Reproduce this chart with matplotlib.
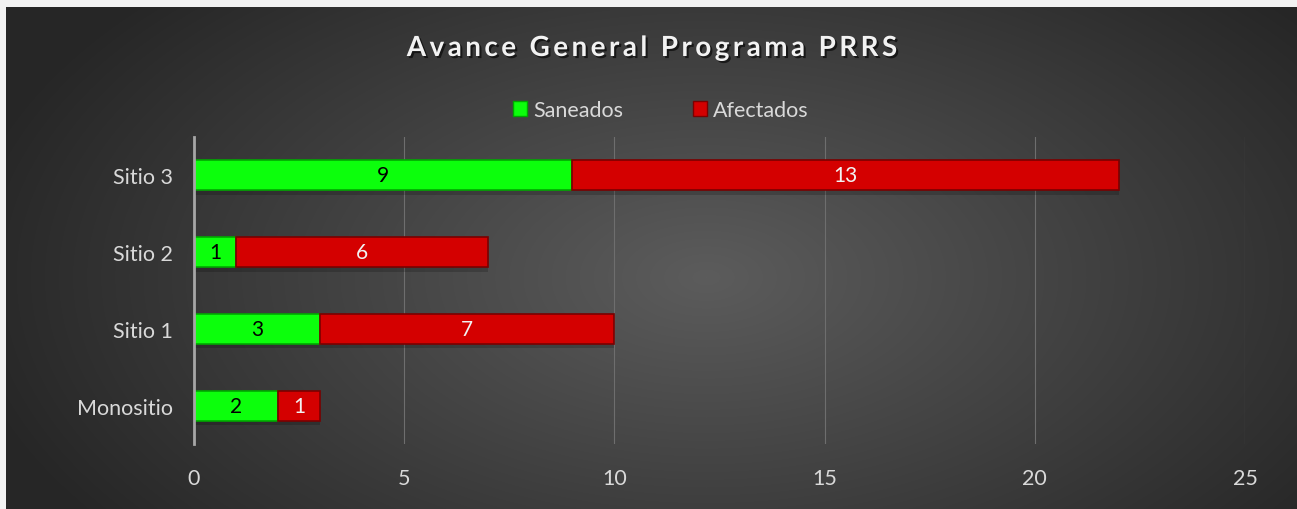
import numpy as np
import matplotlib.pyplot as plt
from matplotlib.patches import Patch
import matplotlib.patheffects as pe

# datos del grafico
sitios = ['Monositio', 'Sitio 1', 'Sitio 2', 'Sitio 3']
saneados = [2, 3, 1, 9]
afectados = [1, 7, 6, 13]
titulo = 'Avance General Programa PRRS'

plt.rcParams['font.family'] = ['Lato', 'DejaVu Sans']

W, H = 1297, 510
fig = plt.figure(figsize=(W / 100, H / 100), dpi=100)
fig.patch.set_facecolor('#f2f2f2')

# fondo con degradado radial
bg = fig.add_axes([6 / W, 0, 1 - 6 / W, 1 - 8 / H])
yy, xx = np.mgrid[0:502, 0:1291]
d = np.sqrt(((xx - 700) / 760.0) ** 2 + ((yy - 270) / 420.0) ** 2)
d = np.clip(d, 0, 1)
c0 = np.array([0x5c, 0x5c, 0x5c]) / 255.0
c1 = np.array([0x26, 0x26, 0x26]) / 255.0
img = c0[None, None, :] * (1 - d[..., None]) + c1[None, None, :] * d[..., None]
bg.imshow(img, aspect='auto', interpolation='bilinear')
bg.axis('off')

ax = fig.add_axes([194 / W, 65 / H, (1245 - 194) / W, (445 - 138) / H])
ax.patch.set_alpha(0)

y = np.arange(len(sitios))
h = 0.39

# sombra
ax.barh(y - 0.06, np.add(saneados, afectados), height=h, color='black', alpha=0.18, zorder=1)

ax.barh(y, saneados, height=h, color='#0cff0c', edgecolor='#00a800', linewidth=1.2, zorder=3, label='Saneados')
ax.barh(y, afectados, left=saneados, height=h, color='#d40000', edgecolor='#7a0000', linewidth=1.2, zorder=3, label='Afectados')

for i in range(len(sitios)):
    ax.text(saneados[i] / 2, y[i], str(saneados[i]), ha='center', va='center', color='black', fontsize=15, zorder=4)
    ax.text(saneados[i] + afectados[i] / 2, y[i], str(afectados[i]), ha='center', va='center', color='#f2f2f2', fontsize=15, zorder=4)

ax.set_xlim(0, 25)
ax.set_ylim(-0.5, 3.5)
ax.set_xticks([0, 5, 10, 15, 20, 25])
ax.set_yticks(y)
ax.set_yticklabels(sitios)
ax.tick_params(length=0, colors='#d9d9d9', labelsize=15.5)
ax.tick_params(axis='x', pad=17)
ax.tick_params(axis='y', pad=15)
ax.grid(axis='x', color='#6e6e6e', linewidth=0.8, zorder=0)
ax.set_axisbelow(True)
for s in ['top', 'right', 'bottom']:
    ax.spines[s].set_visible(False)
ax.spines['left'].set_color('#a6a6a6')
ax.spines['left'].set_linewidth(2)
ax.spines['left'].set_zorder(5)

# titulo con espaciado entre letras
t = '\u2009'.join(titulo).replace('\u2009 \u2009', '  ')
fig.text(652 / W, 1 - 49 / H, t,
         ha='center', va='center', fontsize=20, fontweight='bold', color='#f2f2f2',
         path_effects=[pe.withSimplePatchShadow(offset=(1.5, -1.5), shadow_rgbFace='black', alpha=0.6)])

handles = [Patch(facecolor='#0cff0c', edgecolor='#00a800'), Patch(facecolor='#d40000', edgecolor='#7a0000')]
fig.legend(handles, ['Saneados', 'Afectados'], loc='center', bbox_to_anchor=(661 / W, 1 - 111 / H),
           ncol=2, frameon=False, fontsize=15.5, labelcolor='#d9d9d9', handlelength=0.65, handleheight=0.65,
           handletextpad=0.3, columnspacing=3.2)

fig.savefig('out.png', dpi=100, facecolor=fig.get_facecolor())
